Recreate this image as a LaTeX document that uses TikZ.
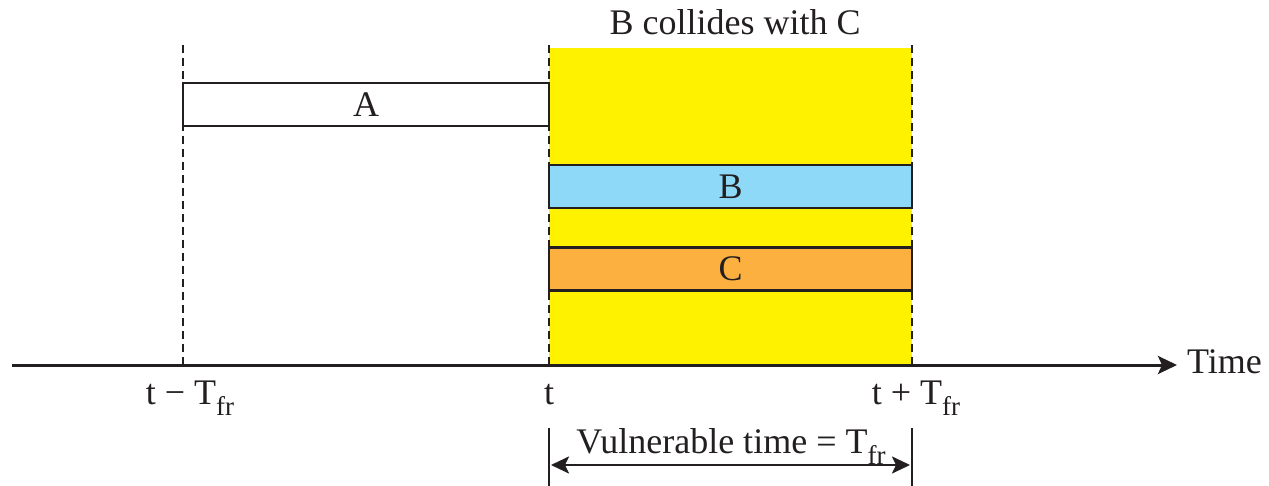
\documentclass[tikz,border=0pt]{standalone}
\usepackage{fontspec}
\setmainfont{Liberation Serif}
\usetikzlibrary{arrows.meta}
\definecolor{vyellow}{HTML}{FFF200}
\definecolor{bblue}{HTML}{8ED8F8}
\definecolor{corange}{HTML}{FBB040}
\definecolor{ink}{HTML}{231F20}
\newcommand\myTfr{T\raisebox{-11pt}{\fontsize{27}{30}\selectfont fr}}
\tikzset{
  frame/.style={draw=ink, line width=2.5pt, minimum height=43pt, inner sep=0pt, font=\fontsize{36}{43}\selectfont, text=ink},
  lbl/.style={font=\fontsize{36}{43}\selectfont, text=ink, inner sep=0pt},
  guide/.style={draw=ink, line width=2.2pt, dash pattern=on 8pt off 5pt},
  axis/.style={draw=ink, line width=3pt, -{Stealth[length=19pt,width=18pt,inset=4pt]}},
  dim/.style={draw=ink, line width=2.5pt, {Stealth[length=18pt,width=17pt,inset=4pt]}-{Stealth[length=18pt,width=17pt,inset=4pt]}},
  tick/.style={draw=ink, line width=1.8pt}
}
\begin{document}
\begin{tikzpicture}[x=1pt,y=-1pt]
\useasboundingbox (0,0) rectangle (1269,486);
% vulnerable window
\fill[vyellow] (549,48) rectangle (912,365);
% guide coordinates
\coordinate (g1t) at (183,45);  \coordinate (g1b) at (183,365);
\coordinate (g2t) at (549,45);  \coordinate (g2b) at (549,365);
\coordinate (g3t) at (912,45);  \coordinate (g3b) at (912,365);
\draw[guide] (g1t) -- (g1b);
\draw[guide] (g2t) -- (g2b);
\draw[guide] (g3t) -- (g3b);
% frames
\node[frame, fill=white, minimum width=366pt] (A) at (366,104.5) {A};
\node[frame, fill=bblue, minimum width=363pt] (B) at (730.5,186.5) {B};
\node[frame, fill=corange, minimum width=363pt] (C) at (730.5,269) {C};
% axis
\coordinate (ax0) at (12,365);
\coordinate (ax1) at (1177,365);
\draw[axis] (ax0) -- (ax1);
\node[lbl, anchor=base west] (time) at (1187,373) {Time};
% title
\node[lbl, anchor=base] (title) at (735,35) {B collides with C};
% tick labels
\node[lbl, anchor=base] (l1) at (190,404) {t − \myTfr};
\node[lbl, anchor=base] (l2) at (549,404) {t};
\node[lbl, anchor=base] (l3) at (916,404) {t + \myTfr};
% vulnerable time dimension
\coordinate (v1t) at (549,428); \coordinate (v1b) at (549,486);
\coordinate (v2t) at (912,428); \coordinate (v2b) at (912,486);
\draw[tick] (v1t) -- (v1b);
\draw[tick] (v2t) -- (v2b);
\coordinate (d1) at (551,465); \coordinate (d2) at (910,465);
\draw[dim] (d1) -- (d2);
\node[lbl, anchor=base] (vt) at (731,453) {Vulnerable time = \myTfr};
\end{tikzpicture}
\end{document}
